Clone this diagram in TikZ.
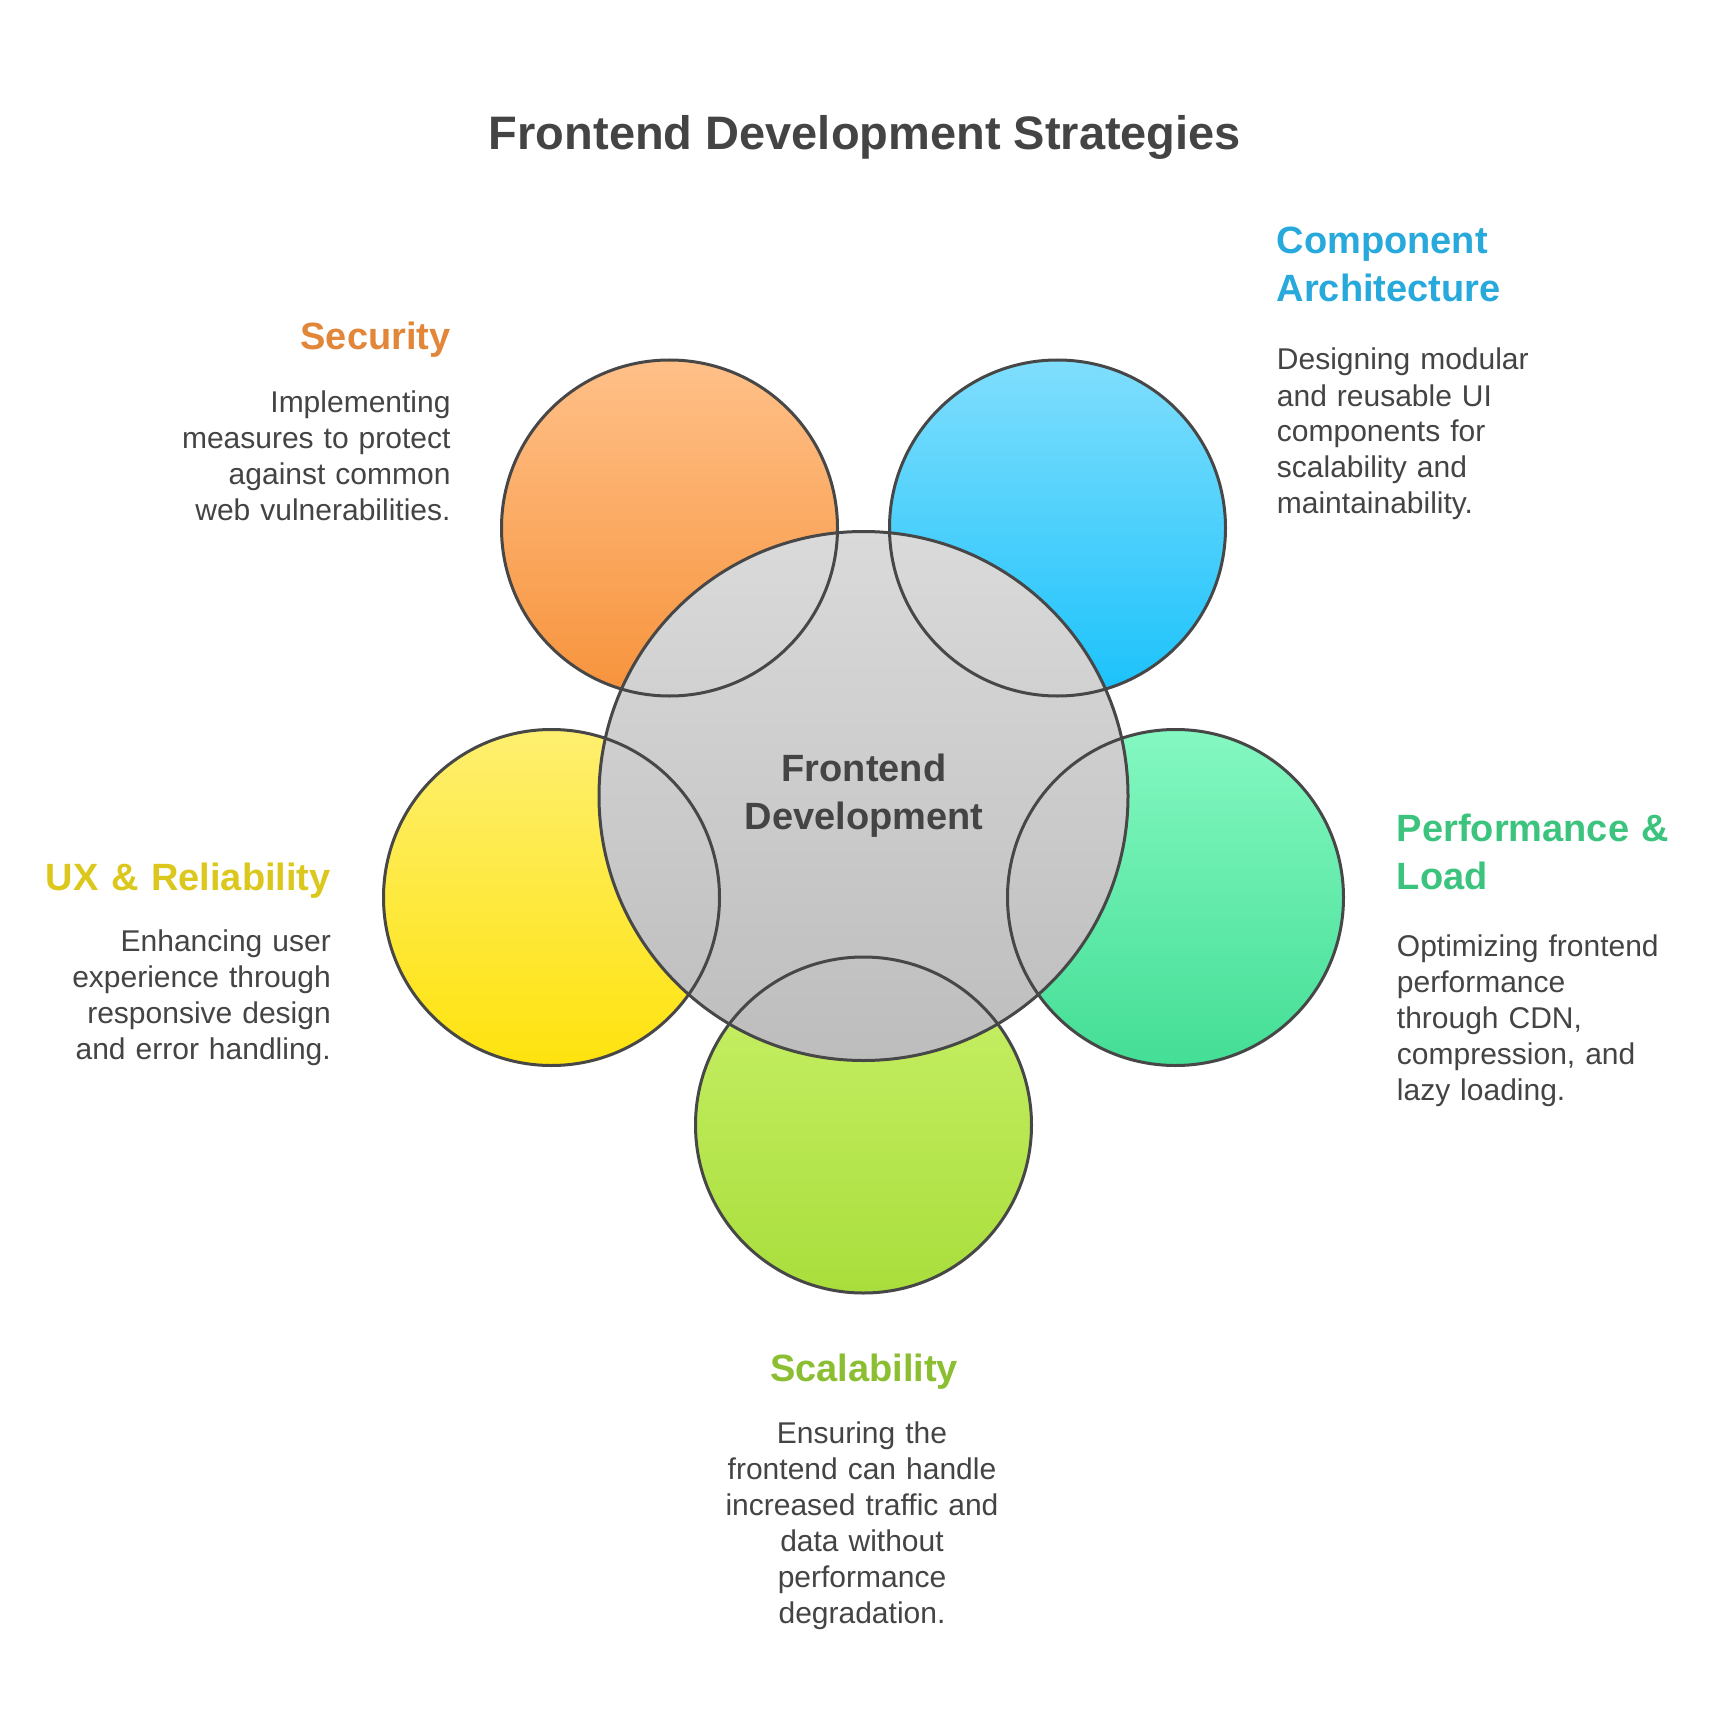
\documentclass[tikz,border=0pt]{standalone}
\usepackage{fontspec}
\setmainfont{Liberation Sans}
\usetikzlibrary{calc}
\definecolor{ink}{HTML}{444444}
\definecolor{edge}{HTML}{474747}
\definecolor{orgT}{HTML}{FFC088}
\definecolor{orgB}{HTML}{F7933C}
\definecolor{bluT}{HTML}{80DEFD}
\definecolor{bluB}{HTML}{1AC2FB}
\definecolor{yelT}{HTML}{FEEF70}
\definecolor{yelB}{HTML}{FEE30E}
\definecolor{grnT}{HTML}{84F8C1}
\definecolor{grnB}{HTML}{44DE96}
\definecolor{limT}{HTML}{C9F169}
\definecolor{limB}{HTML}{A9DE3C}
\definecolor{gryT}{HTML}{DADADA}
\definecolor{gryB}{HTML}{BDBDBD}
\definecolor{secC}{HTML}{E2873A}
\definecolor{comC}{HTML}{27A9DB}
\definecolor{uxC}{HTML}{DCC81C}
\definecolor{prfC}{HTML}{3CC47E}
\definecolor{scaC}{HTML}{8CBE32}
\tikzset{
  sat/.style={circle, inner sep=0pt, minimum size=336pt},
  outline/.style={draw=edge, line width=3pt},
  headtxt/.style={inner sep=0pt, text width=500pt, font=\fontsize{38}{47.5}\selectfont\bfseries},
  desctxt/.style={inner sep=0pt, text width=500pt, text=ink, font=\fontsize{30}{36}\selectfont},
}
\begin{document}
\begin{tikzpicture}[x=1pt,y=-1pt]
\useasboundingbox (0,0) rectangle (1730,1728);
\fill[white] (0,0) rectangle (1730,1728);
% title
\node[inner sep=0pt, anchor=base, text=ink, font=\fontsize{47}{56}\selectfont\bfseries] (title) at (865,149.3) {Frontend Development Strategies};
% satellite fills
\node[sat, top color=orgT, bottom color=orgB] (sec) at (669.5,528) {};
\node[sat, top color=bluT, bottom color=bluB] (com) at (1057.5,528) {};
\node[sat, top color=yelT, bottom color=yelB] (ux) at (551.5,897.5) {};
\node[sat, top color=grnT, bottom color=grnB] (prf) at (1175.5,897.5) {};
\node[sat, top color=limT, bottom color=limB] (sca) at (863.5,1125) {};
% core fill
\node[circle, inner sep=0pt, minimum size=529pt, top color=gryT, bottom color=gryB] (core) at (863.5,796) {};
% outlines
\foreach \n in {sec,com,ux,prf,sca}
  \draw[outline] (\n.center) circle[radius=168pt];
\draw[outline] (core.center) circle[radius=264.5pt];
% core text
\node[headtxt, text=ink, align=center, anchor=base] (coretxt) at (864,781.7) {Frontend\\Development};
% labels
\node[headtxt, text=comC, align=left, anchor=base west] (comh) at (1276.5,254) {Component\\Architecture};
\node[desctxt, align=left, anchor=base west] (comd) at (1276.7,370) {Designing modular\\and reusable UI\\components for\\scalability and\\maintainability.};
\node[headtxt, text=secC, align=right, anchor=base east] (sech) at (450.7,349.3) {Security};
\node[desctxt, align=right, anchor=base east] (secd) at (450.7,412.7) {Implementing\\measures to protect\\against common\\web vulnerabilities.};
\node[headtxt, text=uxC, align=right, anchor=base east] (uxh) at (331,890) {UX \& Reliability};
\node[desctxt, align=right, anchor=base east] (uxd) at (331,951.7) {Enhancing user\\experience through\\responsive design\\and error handling.};
\node[headtxt, text=prfC, align=left, anchor=base west] (prfh) at (1396.7,841.7) {Performance \&\\Load};
\node[desctxt, align=left, anchor=base west] (prfd) at (1396.7,956.7) {Optimizing frontend\\performance\\through CDN,\\compression, and\\lazy loading.};
\node[headtxt, text=scaC, align=center, anchor=base] (scah) at (864,1381.7) {Scalability};
\node[desctxt, align=center, anchor=base] (scad) at (862,1443.3) {Ensuring the\\frontend can handle\\increased traffic and\\data without\\performance\\degradation.};
\end{tikzpicture}
\end{document}
